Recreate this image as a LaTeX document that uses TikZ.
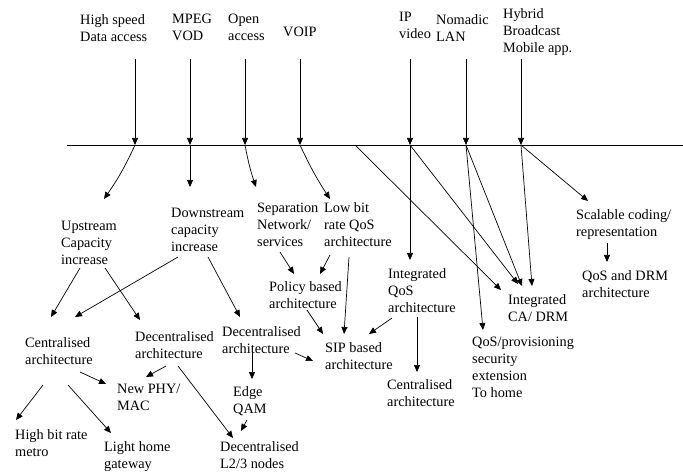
\documentclass[tikz,border=0pt]{standalone}
\usepackage{fontspec}
\setmainfont{Liberation Serif}
\usetikzlibrary{arrows.meta}

\tikzset{
  lbl/.style={anchor=north west, inner sep=0pt, align=left,
              font=\fontsize{14.3}{17}\selectfont},
  arr/.style={draw, line width=0.7pt, -{Triangle[length=7pt,width=6pt]}},
  bus/.style={draw, line width=0.8pt}
}

\begin{document}
\begin{tikzpicture}[x=1pt,y=-1pt]
\useasboundingbox (0,0) rectangle (683,473);

% services along the top
\node[lbl] (hs)  at (80,14)  {High speed\\Data access};
\node[lbl] (mpeg) at (172,14) {MPEG\\VOD};
\node[lbl] (open) at (228,14) {Open\\access};
\node[lbl] (voip) at (283,27) {VOIP};
\node[lbl] (ip)   at (399,12) {IP\\video};
\node[lbl] (nom)  at (436,14) {Nomadic\\LAN};
\node[lbl] (hyb)  at (503,8)  {Hybrid\\Broadcast\\Mobile app.};

% the common line
\coordinate (busL) at (67,145);
\coordinate (busR) at (683,145);
\draw[bus] (busL) -- (busR);
\coordinate (b1) at (135,145);
\coordinate (b2) at (190,145);
\coordinate (b3) at (245,145);
\coordinate (b4) at (300,145);
\coordinate (bx) at (355,145);
\coordinate (b5) at (410,145);
\coordinate (b6) at (466,145);
\coordinate (b7) at (521,145);

% requirements
\node[lbl] (up)   at (61,221)  {Upstream\\Capacity\\increase};
\node[lbl] (down) at (171,208) {Downstream\\capacity\\increase};
\node[lbl] (sep)  at (257,203) {Separation\\Network/\\services};
\node[lbl] (low)  at (324,202) {Low bit\\rate QoS\\architecture};
\node[lbl] (pol)  at (269,281) {Policy based\\architecture};
\node[lbl] (iqos) at (388,268) {Integrated\\QoS\\architecture};
\node[lbl] (ica)  at (508,294) {Integrated\\CA/ DRM};
\node[lbl] (prov) at (472,337) {QoS/provisioning\\security\\extension\\To home};
\node[lbl] (cenR) at (387,379) {Centralised\\architecture};
\node[lbl] (sip)  at (325,342) {SIP based\\architecture};
\node[lbl] (scal) at (576,209) {Scalable coding/\\representation};
\node[lbl] (qdrm) at (582,270) {QoS and DRM\\architecture};

% architectures
\node[lbl] (cenL) at (25,337)  {Centralised\\architecture};
\node[lbl] (dec1) at (135,331) {Decentralised\\architecture};
\node[lbl] (dec2) at (222,326) {Decentralised\\architecture};
\node[lbl] (phy)  at (117,384) {New PHY/\\MAC};
\node[lbl] (hbr)  at (15,429)  {High bit rate\\metro};
\node[lbl] (lhg)  at (104,441) {Light home\\gateway};
\node[lbl] (edge) at (233,386) {Edge\\QAM};
\node[lbl] (l23)  at (220,441) {Decentralised\\L2/3 nodes};

% services onto the line
\draw[arr] ([shift={(55,45)}]hs.north west)   -- (b1);
\draw[arr] ([shift={(18,45)}]mpeg.north west) -- (b2);
\draw[arr] ([shift={(17,45)}]open.north west) -- (b3);
\draw[arr] ([shift={(17,32)}]voip.north west) -- (b4);
\draw[arr] ([shift={(11,47)}]ip.north west)   -- (b5);
\draw[arr] ([shift={(30,45)}]nom.north west)  -- (b6);
\draw[arr] ([shift={(18,51)}]hyb.north west)  -- (b7);

% from the line to the requirements
\draw[arr] (b1) to[bend left=5] ([shift={(43,-22)}]up.north west);
\draw[arr] (b2) -- ([shift={(19,-21)}]down.north west);
\draw[arr] (b3) to[bend right=4] ([shift={(-1,-16)}]sep.north west);
\draw[arr] (b4) to[bend right=4] ([shift={(6,-3)}]low.north west);
\draw[arr] (b5) -- ([shift={(22,-8)}]iqos.north west);
\draw[arr] (b5) -- ([shift={(10,-10)}]ica.north west);
\draw[arr] (bx) -- ([shift={(-7,-4)}]ica.north west);
\draw[arr] (b6) -- ([shift={(11,-7)}]prov.north west);
\draw[arr] (b6) -- ([shift={(14,-8)}]ica.north west);
\draw[arr] (b7) -- ([shift={(24,-8)}]ica.north west);
\draw[arr] (b7) -- ([shift={(12,-8)}]scal.north west);

% between requirements
\draw[arr] ([shift={(19,47)}]up.north west)   -- ([shift={(26,-20)}]cenL.north west);
\draw[arr] ([shift={(44,47)}]up.north west)   -- ([shift={(5,-11)}]dec1.north west);
\draw[arr] ([shift={(7,49)}]down.north west)  -- ([shift={(50,-20)}]cenL.north west);
\draw[arr] ([shift={(37,49)}]down.north west) -- ([shift={(18,-9)}]dec2.north west);
\draw[arr] ([shift={(23,49)}]sep.north west)  -- ([shift={(25,-7)}]pol.north west);
\draw[arr] ([shift={(6,53)}]low.north west)   -- ([shift={(51,-7)}]pol.north west);
\draw[arr] ([shift={(25,55)}]low.north west)  -- ([shift={(19,-8)}]sip.north west);
\draw[arr] ([shift={(38,29)}]pol.north west)  -- ([shift={(-2,-8)}]sip.north west);
\draw[arr] ([shift={(4,50)}]iqos.north west)  -- ([shift={(44,-8)}]sip.north west);
\draw[arr] ([shift={(29,49)}]iqos.north west) -- ([shift={(30,-7)}]cenR.north west);
\draw[arr] ([shift={(31,34)}]scal.north west) -- ([shift={(25,-8)}]qdrm.north west);

% down to the building blocks
\draw[arr] ([shift={(55,35)}]cenL.north west) -- ([shift={(-11,0)}]phy.north west);
\draw[arr] ([shift={(31,35)}]dec1.north west) -- ([shift={(29,-7)}]phy.north west);
\draw[arr] ([shift={(18,48)}]cenL.north west) -- ([shift={(1,-9)}]hbr.north west);
\draw[arr] ([shift={(43,48)}]cenL.north west) -- ([shift={(7,-8)}]lhg.north west);
\draw[arr] ([shift={(43,35)}]dec1.north west) -- ([shift={(13,-3)}]l23.north west);
\draw[arr] ([shift={(30,27)}]dec2.north west) -- ([shift={(19,-7)}]edge.north west);
\draw[arr] ([shift={(73,27)}]dec2.north west) -- ([shift={(-12,19)}]sip.north west);
\draw[arr] ([shift={(14,34)}]edge.north west) -- ([shift={(21,-10)}]l23.north west);
\end{tikzpicture}
\end{document}
